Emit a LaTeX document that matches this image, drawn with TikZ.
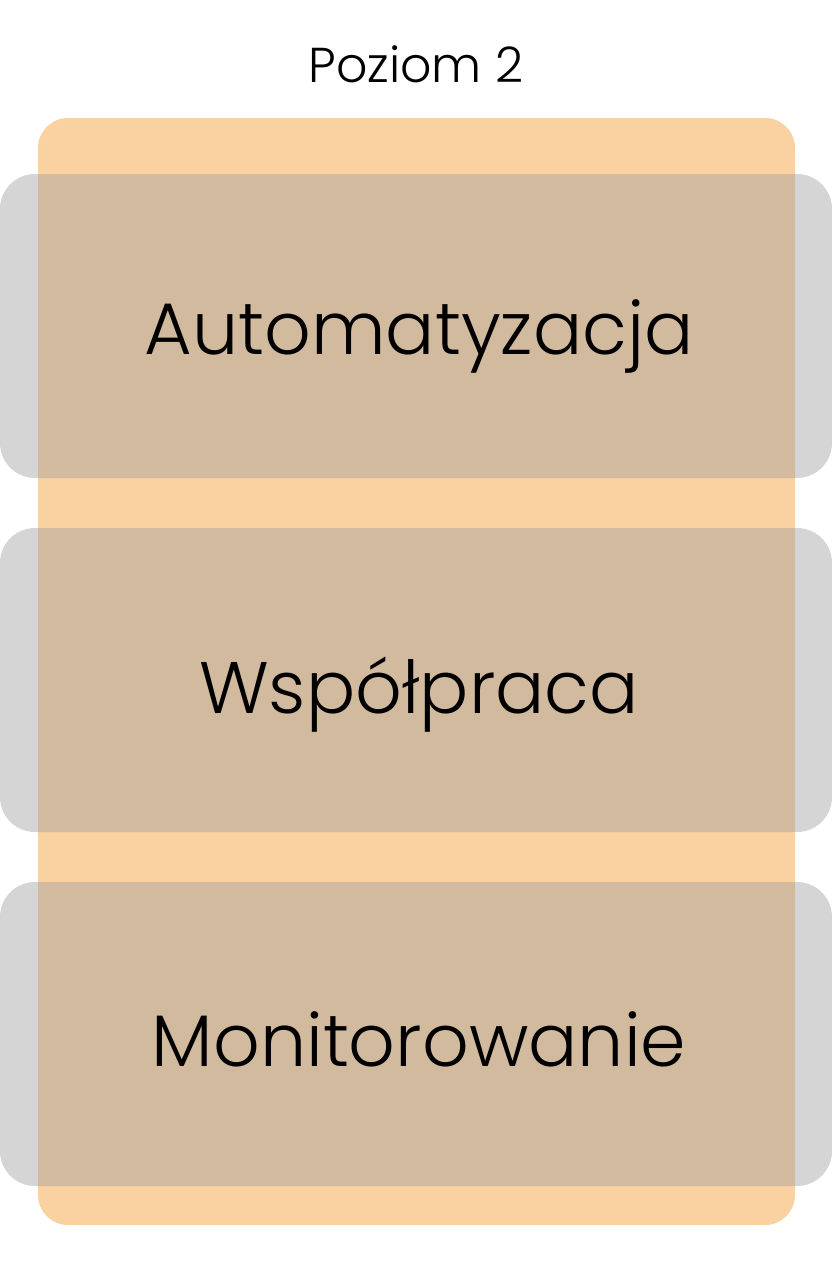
\documentclass[tikz,border=0pt]{standalone}
\usepackage{fontspec}
\setmainfont{Poppins}[UprightFont=* Light]
\definecolor{orangebg}{RGB}{250,209,161}
\definecolor{grayband}{RGB}{155,155,155}
\tikzset{
  panel/.style={fill=orangebg, draw=none, rounded corners=30pt},
  band/.style={fill=grayband, fill opacity=0.42, draw=none, rounded corners=35pt},
  bandlabel/.style={anchor=base, font=\fontsize{73}{80}\selectfont, text=black, inner sep=0pt},
  titlelabel/.style={anchor=base, font=\fontsize{49}{54}\selectfont, text=black, inner sep=0pt}
}
\begin{document}
\begin{tikzpicture}[x=1pt,y=-1pt]
\useasboundingbox (0,0) rectangle (832,1261);
\fill[white] (0,0) rectangle (832,1261);
\node[titlelabel] (title) at (416,82) {Poziom 2};
\path[panel] (38,118) rectangle (795,1225);
\path[band] (0,174) rectangle (832,478);
\path[band] (0,528) rectangle (832,832);
\path[band] (0,882) rectangle (832,1186);
\node[bandlabel] (a) at (419,354) {Automatyzacja};
\node[bandlabel] (b) at (419,713) {Współpraca};
\node[bandlabel] (c) at (419,1066) {Monitorowanie};
\end{tikzpicture}
\end{document}
